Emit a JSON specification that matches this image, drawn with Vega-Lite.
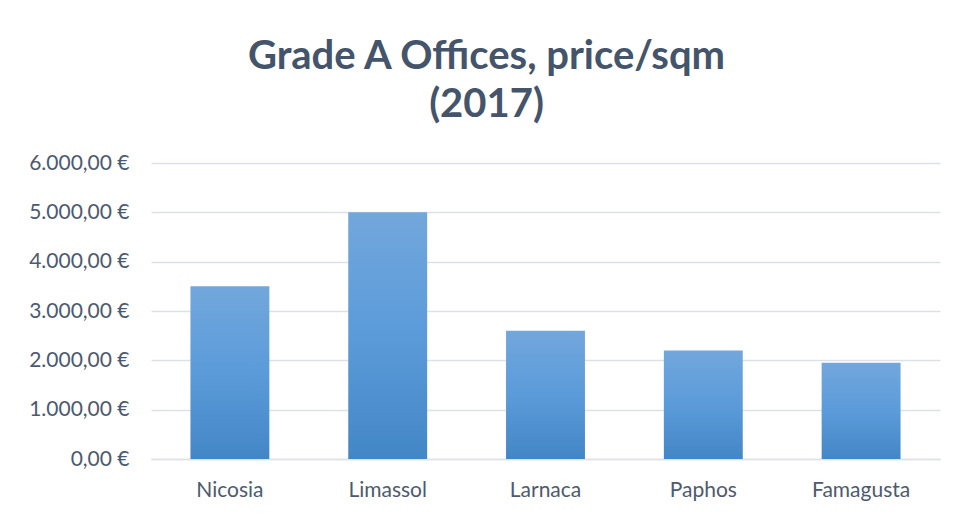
{
  "$schema": "https://vega.github.io/schema/vega-lite/v6.json",
  "width": 789,
  "height": 296,
  "autosize": "none",
  "padding": {"left": 151, "top": 163, "right": 16, "bottom": 60},
  "background": "white",
  "config": {
    "locale": {"number": {"decimal": ",", "thousands": ".", "grouping": [3], "currency": ["", " €"]}},
    "view": {"stroke": null},
    "font": "Lato"
  },
  "title": {
    "text": ["Grade A Offices, price/sqm", "(2017)"],
    "font": "Lato",
    "fontSize": 40,
    "fontWeight": "bold",
    "color": "#44546A",
    "anchor": "middle",
    "frame": "group",
    "dx": -59,
    "offset": 27,
    "lineHeight": 48
  },
  "data": {
    "values": [
      {"city": "Nicosia", "price": 3500},
      {"city": "Limassol", "price": 5000},
      {"city": "Larnaca", "price": 2600},
      {"city": "Paphos", "price": 2200},
      {"city": "Famagusta", "price": 1950}
    ]
  },
  "mark": {
    "type": "bar",
    "color": {
      "gradient": "linear",
      "x1": 0, "y1": 0, "x2": 0, "y2": 1,
      "stops": [
        {"offset": 0, "color": "#72A7DC"},
        {"offset": 0.5, "color": "#5B9BDA"},
        {"offset": 1, "color": "#4386C6"}
      ]
    }
  },
  "encoding": {
    "x": {
      "field": "city",
      "type": "nominal",
      "sort": null,
      "scale": {"paddingInner": 0.5, "paddingOuter": 0.25},
      "axis": {
        "title": null,
        "labelAngle": 0,
        "labelFont": "Lato",
        "labelFontSize": 21,
        "labelColor": "#4D5A6E",
        "labelPadding": 20,
        "ticks": false,
        "domainColor": "#DDE1E6",
        "domainWidth": 1.5
      }
    },
    "y": {
      "field": "price",
      "type": "quantitative",
      "scale": {"domain": [0, 6000]},
      "axis": {
        "title": null,
        "values": [0, 1000, 2000, 3000, 4000, 5000, 6000],
        "format": "$,.2f",
        "labelFont": "Lato",
        "labelFontSize": 21,
        "labelColor": "#4D5A6E",
        "labelPadding": 22,
        "ticks": false,
        "domain": false,
        "gridColor": "#DDE1E6",
        "gridWidth": 1.5
      }
    }
  }
}
